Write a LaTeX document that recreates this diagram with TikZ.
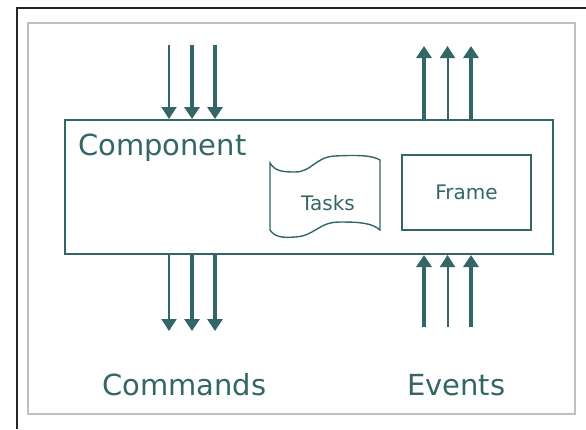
\documentclass[tikz,border=0pt]{standalone}
\usepackage{fontspec}
\newfontfamily\dv{DejaVu Sans}
\usetikzlibrary{arrows.meta}
\definecolor{teal1}{HTML}{336666}
\definecolor{frameblack}{HTML}{262626}
\definecolor{framegray}{HTML}{C0C0C0}
\tikzset{
  arrtip/.style={-{Triangle[width=15pt 0 0,length=12pt 0 0]}},
  thinarr/.style={draw=teal1, line width=2pt, arrtip},
  thickarr/.style={draw=teal1, line width=3.5pt, arrtip},
  bigtext/.style={text=teal1, font=\dv\fontsize{29}{30}\selectfont, inner sep=0pt, anchor=base west},
  smalltext/.style={text=teal1, font=\dv\fontsize{20}{21}\selectfont, inner sep=0pt},
}
\begin{document}
\begin{tikzpicture}[x=1pt,y=-1pt]
\useasboundingbox (0,0) rectangle (586,429);
% outer frames
\draw[frameblack, line width=2pt] (16.5,429) -- (16.5,7.5) -- (586,7.5);
\draw[framegray, line width=1.5pt] (28,23) rectangle (575,414);
% component
\node[draw=teal1, line width=2pt, minimum width=488pt, minimum height=134pt, inner sep=0pt] (comp) at (308.5,187) {};
\node[bigtext] (complabel) at (78,155) {Component};
% frame
\node[draw=teal1, line width=2pt, minimum width=129pt, minimum height=75pt, inner sep=0pt, smalltext] (frame) at (466.5,192.5) {Frame};
% tasks
\draw[teal1, line width=1.4pt] (270,163) -- (270,230)
  .. controls (275,237) and (282,238) .. (295,237)
  .. controls (315,236) and (318,222) .. (340,222)
  .. controls (360,222) and (372,223) .. (380,230)
  -- (380,160)
  .. controls (372,155) and (355,155) .. (335,156)
  .. controls (315,157) and (312,172) .. (295,172)
  .. controls (282,172) and (275,171) .. (270,163) -- cycle;
\node[smalltext, anchor=base west] (tasks) at (301,210) {Tasks};
% coordinates for arrows
\coordinate (ci1) at (169,45);
\coordinate (ci2) at (192,45);
\coordinate (ci3) at (215,45);
\coordinate (co1) at (169,331);
\coordinate (co2) at (192,331);
\coordinate (co3) at (215,331);
\coordinate (eo1) at (424,46);
\coordinate (eo2) at (447.5,46);
\coordinate (eo3) at (471,46);
\coordinate (ei1) at (424,327);
\coordinate (ei2) at (447.5,327);
\coordinate (ei3) at (471,327);
% incoming commands (top left)
\draw[thinarr] (ci1) -- (ci1 |- comp.north);
\draw[thickarr] (ci2) -- (ci2 |- comp.north);
\draw[thickarr] (ci3) -- (ci3 |- comp.north);
% outgoing events (top right)
\draw[thickarr] (eo1 |- comp.north) -- (eo1);
\draw[thinarr] (eo2 |- comp.north) -- (eo2);
\draw[thickarr] (eo3 |- comp.north) -- (eo3);
% outgoing commands (bottom left)
\draw[thinarr] (co1 |- comp.south) -- (co1);
\draw[thickarr] (co2 |- comp.south) -- (co2);
\draw[thickarr] (co3 |- comp.south) -- (co3);
% incoming events (bottom right)
\draw[thickarr] (ei1) -- (ei1 |- comp.south);
\draw[thinarr] (ei2) -- (ei2 |- comp.south);
\draw[thickarr] (ei3) -- (ei3 |- comp.south);
% labels
\node[bigtext] (commands) at (102,395) {Commands};
\node[bigtext] (events) at (407,395) {Events};
\end{tikzpicture}
\end{document}
